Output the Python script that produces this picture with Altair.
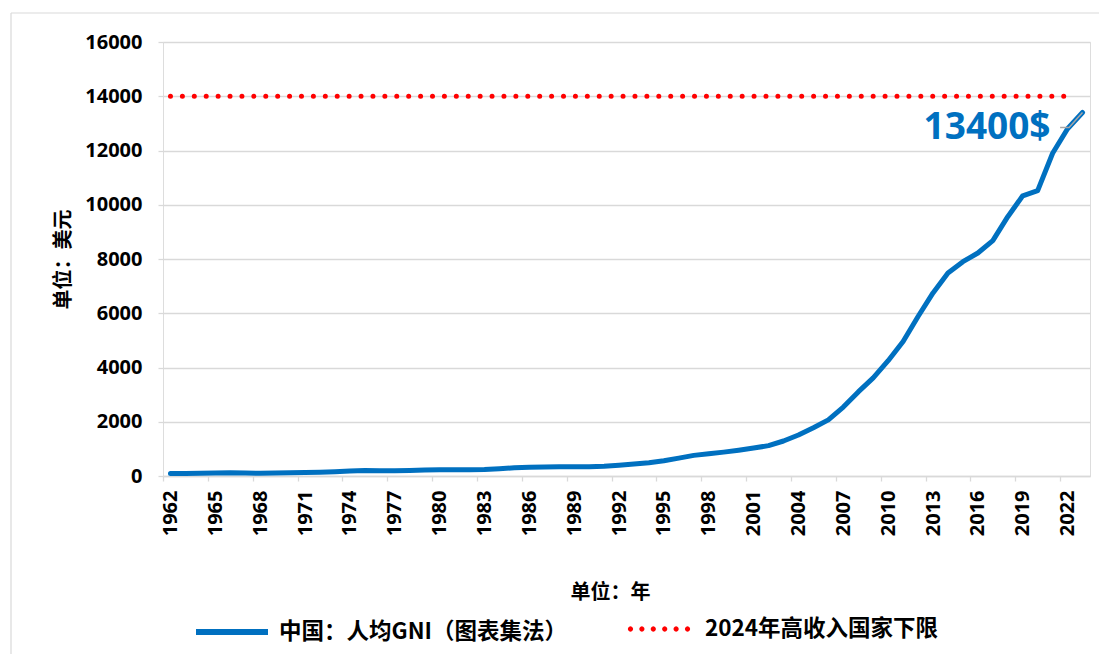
import math
import altair as alt
import pandas as pd

# ---- data ----
years = list(range(1962, 2024))
gni = [90, 90, 100, 110, 120, 110, 100, 110, 120, 130,
       140, 160, 180, 200, 190, 190, 200, 220, 230, 230,
       230, 240, 270, 300, 320, 330, 340, 340, 340, 360,
       400, 440, 490, 560, 660, 760, 820, 880, 950, 1030,
       1120, 1290, 1510, 1780, 2070, 2540, 3100, 3620, 4250, 4960,
       5880, 6750, 7480, 7900, 8220, 8680, 9560, 10330, 10520, 11900,
       12800, 13400]
series_gni = "中国：人均GNI（图表集法）"

threshold_name = "2024年高收入国家下限"
threshold_value = 14000
threshold_start = 1962
threshold_end = 2022

annot_year = 2023
annot_value = 13400
annot_label = "13400$"
leader_x = [2021.5, 2022.1, 2023.0]
leader_y = [12850, 12850, 13400]

y_ticks = [0, 2000, 4000, 6000, 8000, 10000, 12000, 14000, 16000]
x_tick_years = list(range(1962, 2023, 3))

# ---- frames ----
df = pd.DataFrame({"year": years, "gni": gni, "series": series_gni})
df_thr = pd.DataFrame({"x": [threshold_start], "x2": [threshold_end],
                       "y": [threshold_value], "series": [threshold_name]})
df_annot = pd.DataFrame({"year": [annot_year], "v": [annot_value], "t": [annot_label]})
df_leader = pd.DataFrame({"x": leader_x, "y": leader_y, "o": list(range(len(leader_x)))})

W, H = 927, 434
LATIN = "Open Sans"
CJK = "Noto Sans CJK SC"

# dotted legend symbol: six small filled round dots across the [-1, 1] symbol box
def _disc(cx, r=0.085, n=12):
    pts = [(cx + r * math.cos(2 * math.pi * k / n), r * math.sin(2 * math.pi * k / n)) for k in range(n)]
    return "M" + "L".join(f"{x:.4f},{y:.4f}" for x, y in pts) + "Z"

dot_path = "".join(_disc(c) for c in [-0.92, -0.552, -0.184, 0.184, 0.552, 0.92])

xscale = alt.Scale(domain=[1961.5, 2023.5], nice=False, zero=False)
yscale = alt.Scale(domain=[0, 16000], nice=False)

x_axis = alt.Axis(
    values=[y - 0.5 for y in x_tick_years],
    labelExpr="format(datum.value + 0.5, 'd')",
    labelOffset=7.5,
    labelAngle=-90,
    labelFont=LATIN, labelFontSize=20, labelFontWeight="bold", labelColor="#000000",
    labelPadding=9,
    grid=False,
    domainColor="#d9d9d9", domainWidth=1.5,
    tickColor="#d9d9d9", tickSize=5, tickWidth=1.3,
    title="单位：年",
    titleFont=CJK, titleFontSize=20, titleFontWeight="bold", titleColor="#000000",
    titleX=447, titleY=116, titleBaseline="middle", titleAnchor="middle",
)
y_axis = alt.Axis(
    values=y_ticks, format="d",
    labelFont=LATIN, labelFontSize=20, labelFontWeight="bold", labelColor="#000000",
    labelPadding=16,
    grid=True, gridColor="#d9d9d9", gridWidth=1.3,
    domain=False,
    tickColor="#d9d9d9", tickSize=5, tickWidth=1.3,
    title="单位：美元",
    titleFont=CJK, titleFontSize=20, titleFontWeight="bold", titleColor="#000000",
    titleX=-100, titleY=H / 2, titleAngle=-90, titleBaseline="middle", titleAnchor="middle",
)

# chart border (outside plot area)
border_left = alt.Chart(pd.DataFrame({"a": [0]})).mark_rule(color="#d9d9d9", strokeWidth=1.2).encode(
    x=alt.value(-152), y=alt.value(-29), y2=alt.value(640))
border_top = alt.Chart(pd.DataFrame({"a": [0]})).mark_rule(color="#d9d9d9", strokeWidth=1.2).encode(
    x=alt.value(-152), x2=alt.value(960), y=alt.value(-29))

line = alt.Chart(df).mark_line(strokeWidth=5, strokeCap="round", strokeJoin="round").encode(
    x=alt.X("year:Q", scale=xscale, axis=x_axis),
    y=alt.Y("gni:Q", scale=yscale, axis=y_axis),
    color=alt.Color("series:N",
                    scale=alt.Scale(domain=[series_gni], range=["#0070C0"]),
                    legend=alt.Legend(orient="none", legendX=30, legendY=551, title=None,
                                      symbolType="stroke", symbolSize=5184, symbolStrokeWidth=6,
                                      labelFont=CJK, labelFontSize=22.5, labelFontWeight="bold",
                                      labelColor="#000000", labelOffset=8, labelLimit=600,
                                      padding=0)),
)

thr = alt.Chart(df_thr).mark_rule(strokeWidth=5, strokeCap="round", strokeDash=[0.01, 11.9]).encode(
    x=alt.X("x:Q", scale=xscale),
    x2="x2:Q",
    y=alt.Y("y:Q", scale=yscale),
    color=alt.Color("series:N",
                    scale=alt.Scale(domain=[threshold_name], range=["#FF0000"]),
                    legend=alt.Legend(orient="none", legendX=465, legendY=556, title=None,
                                      symbolType=dot_path, symbolSize=3844, symbolStrokeWidth=0,
                                      symbolFillColor="#FF0000",
                                      labelFont=CJK, labelFontSize=22.5, labelFontWeight="bold",
                                      labelColor="#000000", labelOffset=15, labelLimit=600,
                                      padding=0)),
)

leader = alt.Chart(df_leader).mark_line(color="#a6a6a6", strokeWidth=1.5).encode(
    x=alt.X("x:Q", scale=xscale), y=alt.Y("y:Q", scale=yscale), order="o:Q")

annot = alt.Chart(df_annot).mark_text(
    font=LATIN, fontSize=37, fontWeight="bold", color="#0070C0",
    align="right", baseline="middle", dx=-32, dy=15,
).encode(x=alt.X("year:Q", scale=xscale), y=alt.Y("v:Q", scale=yscale), text="t:N")

chart = alt.layer(border_left, border_top, thr, line, leader, annot).resolve_scale(
    color="independent"
).properties(
    width=W, height=H,
    autosize=alt.AutoSizeParams(type="none"),
    padding={"left": 155, "top": 34, "right": 9, "bottom": 178},
).configure_view(stroke=None).configure_legend(
    symbolBaseFillColor="#FF0000"
).configure(background="white")

chart.save("out.html", embed_options={"renderer": "svg", "actions": False})
